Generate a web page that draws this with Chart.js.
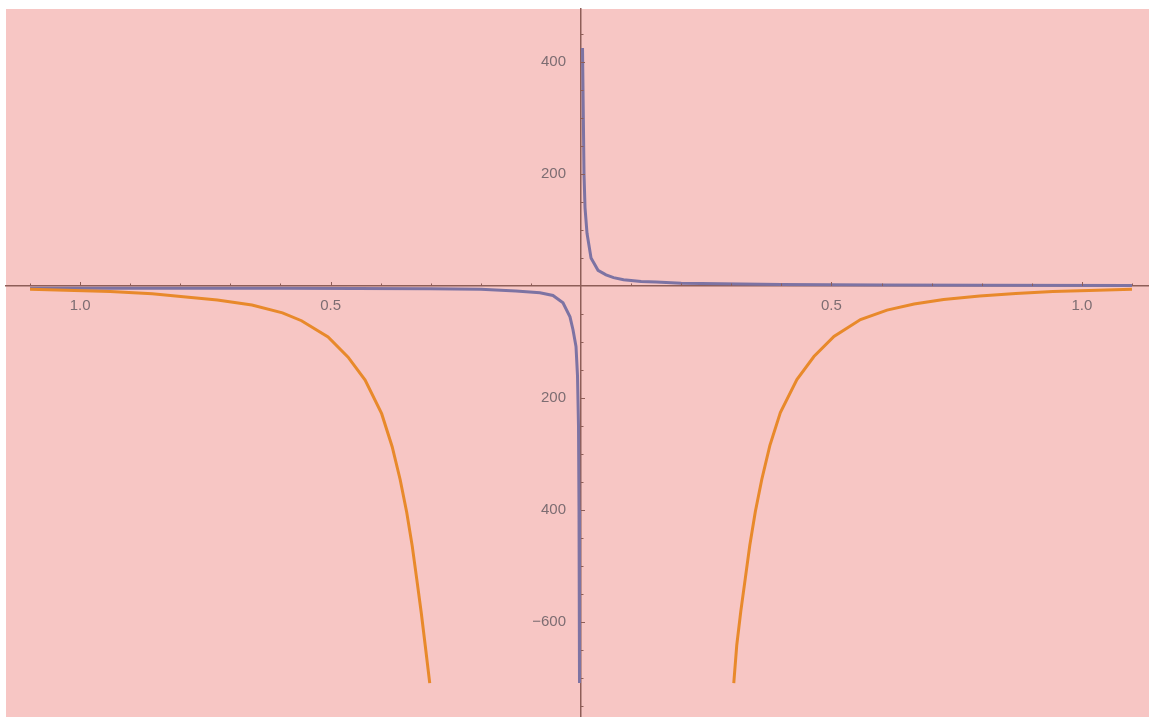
<!DOCTYPE html>
<html>
<head>
<meta charset="utf-8">
<script src="https://cdn.jsdelivr.net/npm/chart.js@4"></script>
<style>
  html, body { margin: 0; padding: 0; background: #ffffff; }
  canvas { display: block; }
</style>
</head>
<body>
<canvas id="chart" width="1149" height="717"></canvas>
<script>
// ---- data ----
const orangeX = [-1.1, -0.94, -0.856, -0.794, -0.726, -0.657, -0.596, -0.558, -0.505, -0.465, -0.431, -0.398, -0.377, -0.361, -0.348, -0.337, -0.328, -0.319, -0.311, -0.302,
                 null,
                 0.305, 0.311, 0.319, 0.328, 0.337, 0.348, 0.361, 0.377, 0.398, 0.431, 0.465, 0.505, 0.558, 0.611, 0.665, 0.724, 0.796, 0.868, 0.942, 1.014, 1.1];
const orangeY = [-6, -10, -14, -19, -25, -34, -48, -62, -91, -127, -168, -228, -287, -346, -404, -464, -523, -583, -642, -709,
                 null,
                 -709, -641, -581, -522, -463, -403, -345, -285, -226, -167, -126, -90, -60, -43, -32, -24, -18, -13.5, -10, -8, -6];

const blueX = [-1.1, -0.6, -0.3, -0.2, -0.13, -0.082, -0.056, -0.036, -0.022, -0.016, -0.01, -0.007, -0.005, -0.004, -0.003,
               null,
               0.003, 0.004, 0.006, 0.008, 0.012, 0.02, 0.034, 0.05, 0.065, 0.085, 0.12, 0.15, 0.2, 0.32, 0.4, 0.6, 0.8, 1.1];
const blueY = [-4, -4, -5, -6, -9, -12, -17, -30, -55, -78, -108, -160, -250, -400, -709,
               null,
               425, 350, 200, 140, 94, 50, 28, 20, 15, 11, 8, 7, 5, 3.5, 2.5, 1.7, 1.3, 1];

// tick labels as they appear (minus sign only on -600)
const xTickValues = [-1, -0.5, 0.5, 1];
const xTickLabels = ["1.0", "0.5", "0.5", "1.0"];
const yTickValues = [-600, -400, -200, 200, 400];
const yTickLabels = ["\u2212600", "400", "200", "200", "400"];

const X_MIN = -1.148, X_MAX = 1.134;
const Y_MIN = -769.6, Y_MAX = 494.6;

const AXIS_COLOR = "#8e5e58";
const LABEL_COLOR = "#7d6d72";
const LABEL_FONT = "15px 'Liberation Sans'";

function toPoints(xs, ys) {
    return xs.map((x, i) => (x === null ? { x: NaN, y: null } : { x: x, y: ys[i] }));
}

// pink plot background
const bgPlugin = {
    id: "bg",
    beforeDraw(chart) {
        const a = chart.chartArea;
        const ctx = chart.ctx;
        ctx.save();
        ctx.fillStyle = "#f7c6c4";
        ctx.fillRect(a.left, a.top, a.right - a.left, a.bottom - a.top);
        ctx.restore();
    }
};

// small inward tick marks + y labels left of the axis
const tickMarks = {
    id: "tickMarks",
    afterDatasetsDraw(chart) {
        const { ctx, scales } = chart;
        const x = scales.x, y = scales.y;
        const x0 = x.getPixelForValue(0);
        const y0 = y.getPixelForValue(0);
        ctx.save();
        ctx.strokeStyle = AXIS_COLOR;
        ctx.lineWidth = 1;
        x.ticks.forEach(t => {
            const px = Math.round(x.getPixelForValue(t.value)) + 0.5;
            const len = xTickValues.includes(t.value) ? 4 : 2.5;
            ctx.beginPath();
            ctx.moveTo(px, y0);
            ctx.lineTo(px, y0 - len);
            ctx.stroke();
        });
        y.ticks.forEach(t => {
            const py = Math.round(y.getPixelForValue(t.value)) + 0.5;
            const len = yTickValues.includes(t.value) ? 4 : 2.5;
            ctx.beginPath();
            ctx.moveTo(x0, py);
            ctx.lineTo(x0 + len, py);
            ctx.stroke();
        });
        ctx.fillStyle = LABEL_COLOR;
        ctx.font = LABEL_FONT;
        ctx.textAlign = "right";
        ctx.textBaseline = "middle";
        yTickValues.forEach((v, i) => {
            ctx.fillText(yTickLabels[i], x0 - 15, y.getPixelForValue(v));
        });
        ctx.restore();
    }
};

function stepTicks(min, max, step) {
    const out = [];
    for (let v = Math.ceil(min / step) * step; v <= max; v += step) {
        const r = Math.round(v / step) * step;
        const val = Math.round(r * 1000) / 1000;
        if (val !== 0) out.push({ value: val });
    }
    return out;
}

function noPad(s) {
    s.paddingTop = 0;
    s.paddingBottom = 0;
    s.paddingLeft = 0;
    s.paddingRight = 0;
}

new Chart(document.getElementById("chart"), {
    type: "line",
    data: {
        datasets: [
            {
                label: "orange",
                data: toPoints(orangeX, orangeY),
                borderColor: "#e8892b",
                borderWidth: 3,
                pointRadius: 0,
                tension: 0,
                spanGaps: false
            },
            {
                label: "blue",
                data: toPoints(blueX, blueY),
                borderColor: "#7d73a3",
                borderWidth: 3,
                pointRadius: 0,
                tension: 0,
                spanGaps: false
            }
        ]
    },
    options: {
        responsive: false,
        animation: false,
        layout: { padding: { left: 6, top: 9, right: 0, bottom: 0 } },
        plugins: {
            legend: { display: false },
            tooltip: { enabled: false }
        },
        scales: {
            x: {
                type: "linear",
                min: X_MIN,
                max: X_MAX,
                position: { y: 0 },
                afterBuildTicks: (s) => { s.ticks = stepTicks(-1.1, 1.1, 0.1); },
                afterFit: noPad,
                grid: { drawOnChartArea: false, drawTicks: false },
                border: { color: AXIS_COLOR, width: 1.5 },
                ticks: {
                    autoSkip: false,
                    maxRotation: 0,
                    padding: 11,
                    color: LABEL_COLOR,
                    font: { family: "Liberation Sans", size: 15 },
                    callback: (v) => {
                        const i = xTickValues.indexOf(Math.round(v * 10) / 10);
                        return i >= 0 ? xTickLabels[i] : "";
                    }
                }
            },
            y: {
                type: "linear",
                min: Y_MIN,
                max: Y_MAX,
                position: { x: 0 },
                afterBuildTicks: (s) => { s.ticks = stepTicks(-750, 450, 50); },
                afterFit: noPad,
                grid: { drawOnChartArea: false, drawTicks: false },
                border: { color: AXIS_COLOR, width: 1.5 },
                ticks: { display: false }
            }
        }
    },
    plugins: [bgPlugin, tickMarks]
});
</script>
</body>
</html>
